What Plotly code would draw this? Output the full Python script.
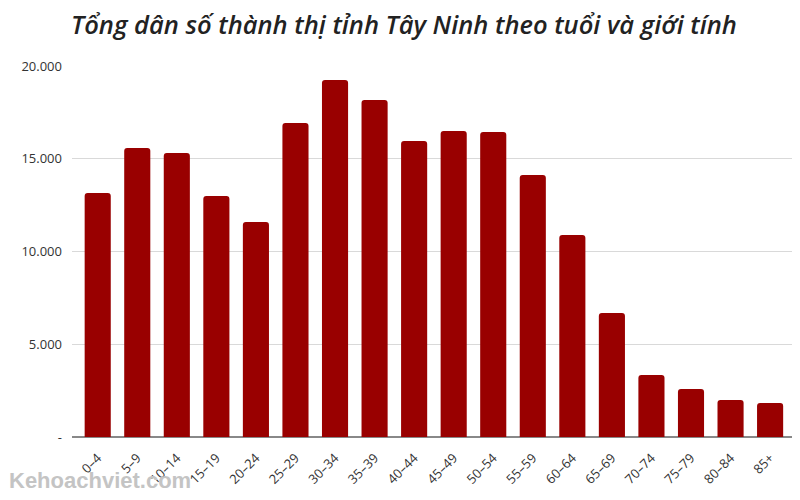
import plotly.graph_objects as go

age_groups = ["0–4", "5–9", "10–14", "15–19", "20–24", "25–29", "30–34", "35–39",
              "40–44", "45–49", "50–54", "55–59", "60–64", "65–69", "70–74", "75–79",
              "80–84", "85+"]
population = [13150, 15580, 15310, 12990, 11590, 16930, 19250, 18170,
              15960, 16500, 16440, 14120, 10890, 6690, 3340, 2590, 1990, 1830]
y_tick_vals = [0, 5000, 10000, 15000, 20000]
y_tick_text = ["-", "5.000", "10.000", "15.000", "20.000"]

title_text = "Tổng dân số thành thị tỉnh Tây Ninh theo tuổi và giới tính"
watermark = "Kehoachviet.com"

W, H = 792, 484  # page body has an 8px margin

fig = go.Figure()
fig.add_trace(go.Bar(
    x=list(range(len(age_groups))),
    y=population,
    marker=dict(color="#990000", line=dict(width=0)),
    hoverinfo="y",
))

fig.update_layout(
    width=W, height=H,
    margin=dict(l=64, r=3, t=58, b=55),
    paper_bgcolor="white", plot_bgcolor="white",
    bargap=0.34,
    barcornerradius=3,
    showlegend=False,
    title=dict(
        text="<i>" + title_text + "</i>",
        x=0.5, xanchor="center", y=1 - 17 / H, yanchor="middle",
        font=dict(family="Open Sans, Noto Sans, sans-serif", size=25.5, color="#222222", weight=600),
    ),
    font=dict(family="Open Sans, Noto Sans, sans-serif", size=13, color="#333333"),
)

fig.update_xaxes(
    tickmode="array",
    tickvals=list(range(len(age_groups))),
    ticktext=age_groups,
    tickangle=-45,
    range=[-0.65, 17.68],
    showgrid=False,
    showline=False,
    ticks="",
    automargin=False,
    ticklabelstandoff=10,
    tickfont=dict(size=13, color="#333333"),
)

fig.update_yaxes(
    range=[0, 20000],
    tickmode="array",
    tickvals=y_tick_vals,
    ticktext=y_tick_text,
    showgrid=True,
    gridcolor="#d9d9d9",
    gridwidth=1,
    zeroline=True,
    zerolinecolor="#888888",
    zerolinewidth=2,
    ticks="",
    automargin=False,
    ticklabelstandoff=9,
    tickfont=dict(size=13, color="#333333"),
)

fig.add_annotation(
    text="<b>" + watermark + "</b>",
    xref="paper", yref="paper",
    x=-0.09, y=-(487 - 429) / 371, xanchor="left", yanchor="bottom",
    showarrow=False,
    font=dict(family="Liberation Sans, Arial, sans-serif", size=22, color="#c4c4c4"),
)

fig.write_html("out.html")
